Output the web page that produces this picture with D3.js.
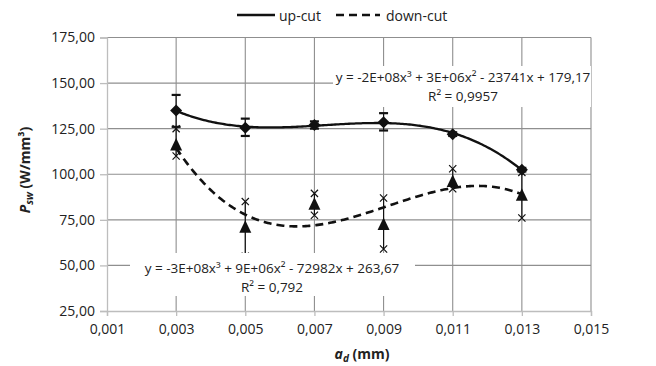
<!DOCTYPE html>
<html><head><meta charset="utf-8">
<script src="https://cdn.jsdelivr.net/npm/d3@7"></script>
<style>
body{margin:0;background:#fff;}
text{font-family:"Open Sans",sans-serif;fill:#222;}
</style></head>
<body><svg id="c" width="656" height="366"></svg>
<script>
const xTicks = [0.001,0.003,0.005,0.007,0.009,0.011,0.013,0.015];
const yTicks = [25,50,75,100,125,150,175];
const depths = [0.003,0.005,0.007,0.009,0.011,0.013];
const upMean = [135,125.5,127,128.5,122,102.5];
const upLow  = [126,121,125,124,121,101.5];
const upHigh = [143.5,130.5,129,133.5,123,103.5];
const downMean = [116,71,83.5,72.5,96,88.5];
const downLow  = [110,55,77.5,59,92,76];
const downHigh = [125,85,89.5,87,103,101];
const seriesNames = ["up-cut","down-cut"];
const upEq = ["y = -2E+08x³ + 3E+06x² - 23741x + 179,17","R² = 0,9957"];
const downEq = ["y = -3E+08x³ + 9E+06x² - 72982x + 263,67","R² = 0,792"];

const svg = d3.select("#c");
const L=107,R=591,T=37.5,B=311;
const x = d3.scaleLinear().domain([0.001,0.015]).range([L,R]);
const y = d3.scaleLinear().domain([25,175]).range([B,T]);
const fmt = d3.formatLocale({decimal:",",thousands:".",grouping:[3],currency:["",""]});
const fx = fmt.format(".3f"), fy = fmt.format(".2f");

// gridlines
const g = svg.append("g");
g.selectAll("line.hg").data(yTicks.slice(1)).join("line")
 .attr("x1",L).attr("x2",R).attr("y1",d=>y(d)).attr("y2",d=>y(d))
 .attr("stroke","#8f8f8f").attr("stroke-width",1.1);
g.selectAll("line.vg").data(xTicks.slice(1)).join("line")
 .attr("y1",T).attr("y2",B).attr("x1",d=>x(d)).attr("x2",d=>x(d))
 .attr("stroke","#8f8f8f").attr("stroke-width",1.1);

// axes
const ya = svg.append("g").attr("transform",`translate(${L},0)`)
 .call(d3.axisLeft(y).tickValues(yTicks).tickFormat(fy).tickSize(7).tickPadding(5));
const xa = svg.append("g").attr("transform",`translate(0,${B})`)
 .call(d3.axisBottom(x).tickValues(xTicks).tickFormat(fx).tickSize(5).tickPadding(8));
[ya,xa].forEach(a=>{
  a.select(".domain").attr("stroke","#bdbdbd").attr("stroke-width",1.3);
  a.selectAll(".tick line").attr("stroke","#bdbdbd").attr("stroke-width",1.3);
  a.selectAll(".tick text").style("font-family","Open Sans").style("font-size","14px").attr("fill","#222");
});

// cubic least squares fit (polynomial trendline)
function cubicFit(xs,ys){
  const n=4, s=1000;
  const A=Array.from({length:n},()=>Array(n+1).fill(0));
  xs.forEach((xv,i)=>{
    const t=xv*s;
    for(let r=0;r<n;r++){for(let c=0;c<n;c++)A[r][c]+=Math.pow(t,r+c);A[r][n]+=ys[i]*Math.pow(t,r);}
  });
  for(let i=0;i<n;i++){
    let m=i;for(let k=i+1;k<n;k++)if(Math.abs(A[k][i])>Math.abs(A[m][i]))m=k;
    [A[i],A[m]]=[A[m],A[i]];
    for(let k=0;k<n;k++){if(k===i)continue;const f=A[k][i]/A[i][i];for(let c=i;c<=n;c++)A[k][c]-=f*A[i][c];}
  }
  const co=A.map((r,i)=>r[n]/r[i]);
  return xv=>{const t=xv*s;return co[0]+co[1]*t+co[2]*t*t+co[3]*t*t*t;};
}
const fUp=cubicFit(depths,upMean), fDown=cubicFit(depths,downMean);
const xs=d3.range(0,201).map(i=>0.003+i*0.01/200);
const line=d3.line().x(d=>x(d[0])).y(d=>y(d[1]));

svg.append("path").attr("d",line(xs.map(v=>[v,fDown(v)])))
 .attr("fill","none").attr("stroke","#111").attr("stroke-width",2.6).attr("stroke-dasharray","8,5");
svg.append("path").attr("d",line(xs.map(v=>[v,fUp(v)])))
 .attr("fill","none").attr("stroke","#111").attr("stroke-width",2.3);

// error bars
const eb=svg.append("g");
depths.forEach((d,i)=>{
  const cx=x(d);
  eb.append("line").attr("x1",cx).attr("x2",cx).attr("y1",y(downLow[i])).attr("y2",y(downHigh[i])).attr("stroke","#111").attr("stroke-width",1.2);
  [downLow[i],downHigh[i]].forEach(v=>{
    const cy=y(v),s=3.6;
    eb.append("path").attr("d",`M${cx-s},${cy-s}L${cx+s},${cy+s}M${cx-s},${cy+s}L${cx+s},${cy-s}`).attr("stroke","#111").attr("stroke-width",1.2);
  });
  eb.append("line").attr("x1",cx).attr("x2",cx).attr("y1",y(upLow[i])).attr("y2",y(upHigh[i])).attr("stroke","#111").attr("stroke-width",1.2);
  [upLow[i],upHigh[i]].forEach(v=>{
    eb.append("line").attr("x1",cx-4.5).attr("x2",cx+4.5).attr("y1",y(v)).attr("y2",y(v)).attr("stroke","#111").attr("stroke-width",2.2);
  });
});

// markers
svg.append("g").selectAll("path").data(depths).join("path")
 .attr("d",(d,i)=>{const cx=x(d),cy=y(downMean[i]);return `M${cx},${cy-7}L${cx+6},${cy+5.5}L${cx-6},${cy+5.5}Z`;})
 .attr("fill","#111");
svg.append("g").selectAll("path").data(depths).join("path")
 .attr("d",(d,i)=>{const cx=x(d),cy=y(upMean[i]);return `M${cx},${cy-6}L${cx+6},${cy}L${cx},${cy+6}L${cx-6},${cy}Z`;})
 .attr("fill","#111");

// equation labels
function eqLabel(lines,cx,cy1,box,fs){
  svg.append("rect").attr("x",box[0]).attr("y",box[1]).attr("width",box[2]).attr("height",box[3]).attr("fill","#fff");
  lines.forEach((t,i)=>svg.append("text").attr("x",cx).attr("y",cy1+i*19).attr("text-anchor","middle")
    .attr("dominant-baseline","central").style("font-size",fs+"px").text(t));
}
eqLabel(upEq,463,77,[333,66,258,41],13.5);
eqLabel(downEq,272,268,[130,253,285,43],13.5);

// axis titles
const xt=svg.append("text").attr("x",362).attr("y",359).attr("text-anchor","middle").style("font-size","14px").style("font-weight","bold");
xt.append("tspan").text("a").style("font-style","italic");
xt.append("tspan").text("d").style("font-style","italic").style("font-size","10px").attr("dy",3);
xt.append("tspan").text(" (mm)").attr("dy",-3);
const yt=svg.append("text").attr("transform","translate(30,170) rotate(-90)").attr("text-anchor","middle").style("font-size","14px").style("font-weight","bold");
yt.append("tspan").text("P").style("font-style","italic");
yt.append("tspan").text("sw").style("font-style","italic").style("font-size","10px").attr("dy",3);
yt.append("tspan").text(" (W/mm³)").attr("dy",-3);

// legend
const lg=svg.append("g");
lg.append("line").attr("x1",237).attr("x2",275).attr("y1",15).attr("y2",15).attr("stroke","#111").attr("stroke-width",2.3);
lg.append("text").attr("x",279).attr("y",15).attr("dominant-baseline","central").style("font-size","14px").text(seriesNames[0]);
lg.append("line").attr("x1",336).attr("x2",380).attr("y1",15).attr("y2",15).attr("stroke","#111").attr("stroke-width",2.6).attr("stroke-dasharray","8,5");
lg.append("text").attr("x",386).attr("y",15).attr("dominant-baseline","central").style("font-size","14px").text(seriesNames[1]);
</script></body></html>
